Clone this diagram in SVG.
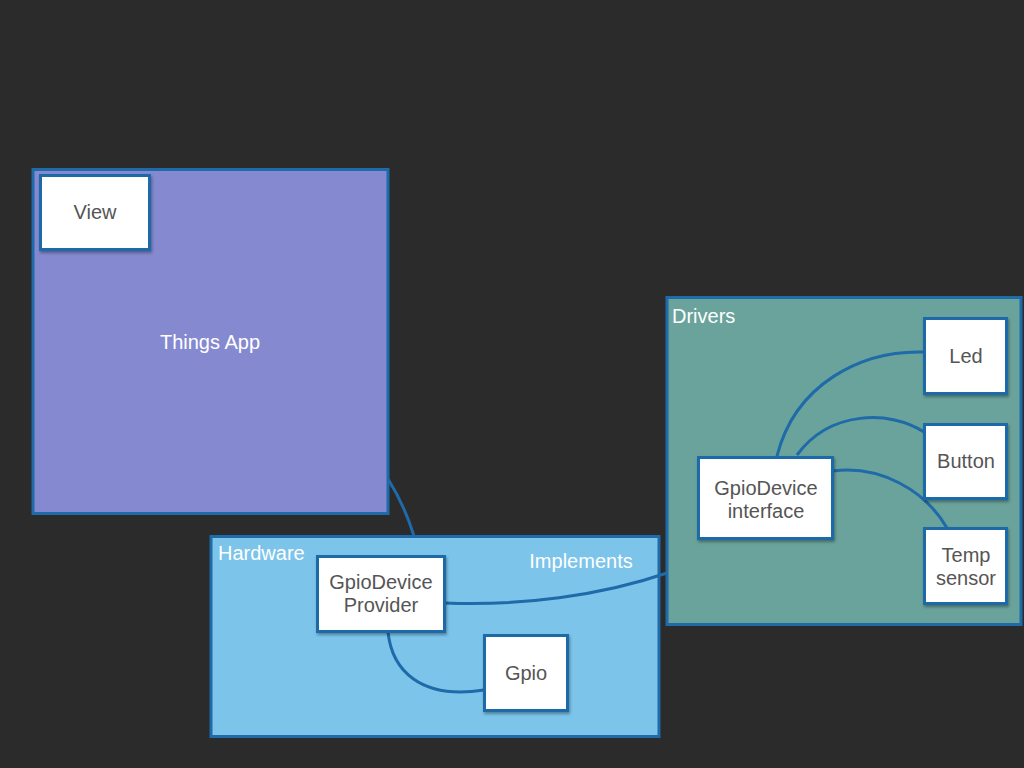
<svg xmlns="http://www.w3.org/2000/svg" width="1024" height="768" viewBox="0 0 1024 768">
<defs>
<filter id="sh" x="-10%" y="-10%" width="130%" height="130%">
<feDropShadow dx="1" dy="2" stdDeviation="1.5" flood-color="#000" flood-opacity="0.35"/>
</filter>
</defs>
<style>
.grp{stroke:#1f6aa8;stroke-width:3}
.box{fill:#ffffff;stroke:#1f6aa8;stroke-width:3;filter:url(#sh)}
.lbl{font-family:"Liberation Sans",Arial,sans-serif;font-size:20px;fill:#555555;text-anchor:middle}
.wt{font-family:"Liberation Sans",Arial,sans-serif;font-size:20px;fill:#ffffff}
.conn{fill:none;stroke:#1f6aa8;stroke-width:3}
</style>
<rect x="0" y="0" width="1024" height="768" fill="#2b2b2b"/>
<g id="things-app">
<rect class="grp" x="33" y="169.5" width="355" height="344" fill="#8589d0"/>
<text class="wt" x="210" y="349" text-anchor="middle">Things App</text>
</g>
<g id="view">
<rect class="box" x="40.5" y="175.5" width="109" height="74"/>
<text class="lbl" x="95" y="219">View</text>
</g>
<g id="hardware">
<rect class="grp" x="211" y="536.5" width="448" height="200" fill="#7cc4ea"/>
<text class="wt" x="218" y="560">Hardware</text>
<text class="wt" x="581" y="568" text-anchor="middle">Implements</text>
</g>
<g id="drivers">
<rect class="grp" x="667" y="297.5" width="354" height="327" fill="#6aa39c"/>
<text class="wt" x="672" y="323">Drivers</text>
</g>
<g id="connectors">
<path class="conn" d="M388,479 Q404,504 414,536"/>
<path class="conn" d="M445,603 C520,606 600,596 667,573"/>
<path class="conn" d="M388,632 C392,670 420,700 484,690"/>
<path class="conn" d="M777,456 C795,385 860,350 924,352"/>
<path class="conn" d="M797,455 C830,410 890,410 924,432"/>
<path class="conn" d="M833,471 C880,465 925,490 947,528"/>
</g>
<g id="gpiodevice-provider">
<rect class="box" x="317.5" y="556.5" width="127" height="75"/>
<text class="lbl" x="381" y="589">GpioDevice</text>
<text class="lbl" x="381" y="612">Provider</text>
</g>
<g id="gpio">
<rect class="box" x="484.5" y="635.5" width="83" height="75"/>
<text class="lbl" x="526" y="680">Gpio</text>
</g>
<g id="gpiodevice-interface">
<rect class="box" x="698.5" y="457.5" width="134" height="81"/>
<text class="lbl" x="766" y="495">GpioDevice</text>
<text class="lbl" x="766" y="518">interface</text>
</g>
<g id="led">
<rect class="box" x="924.5" y="318.5" width="82" height="75"/>
<text class="lbl" x="966" y="363">Led</text>
</g>
<g id="button">
<rect class="box" x="924.5" y="424.5" width="82" height="74"/>
<text class="lbl" x="966" y="468">Button</text>
</g>
<g id="temp-sensor">
<rect class="box" x="924.5" y="528.5" width="82" height="75"/>
<text class="lbl" x="966" y="562">Temp</text>
<text class="lbl" x="966" y="585">sensor</text>
</g>
</svg>
